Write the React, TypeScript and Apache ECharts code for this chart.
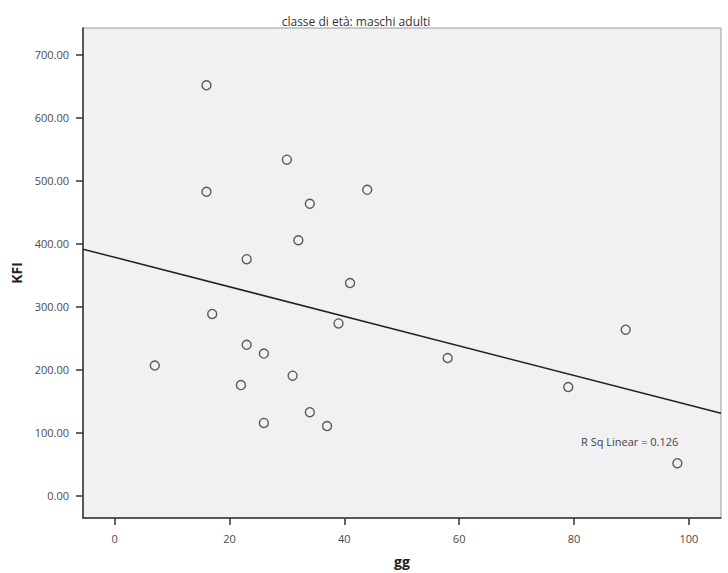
import React, { useEffect, useRef } from "react";
import * as echarts from "echarts";

const titleText = "classe di età: maschi adulti";
const xName = "gg";
const yName = "KFI";
const rSqLabel = "R Sq Linear = 0.126";

const ggValues = [16, 30, 16, 34, 44, 32, 23, 41, 17, 39, 7, 23, 26, 22, 31, 26, 34, 37, 58, 89, 79, 98];
const kfiValues = [651, 533, 482, 463, 485, 405, 375, 337, 288, 273, 206, 239, 225, 175, 190, 115, 132, 110, 218, 263, 172, 51];

const xTicks = [0, 20, 40, 60, 80, 100];
const yTicks = [0, 100, 200, 300, 400, 500, 600, 700];
const xMin = -5.5;
const xMax = 105.6;
const yMin = -36;
const yMax = 742;

const FONT = "'Open Sans', 'Noto Sans', sans-serif";

function fitLine(xs: number[], ys: number[]) {
  const n = xs.length;
  const mx = xs.reduce((a, b) => a + b, 0) / n;
  const my = ys.reduce((a, b) => a + b, 0) / n;
  let sxy = 0;
  let sxx = 0;
  for (let i = 0; i < n; i++) {
    sxy += (xs[i] - mx) * (ys[i] - my);
    sxx += (xs[i] - mx) * (xs[i] - mx);
  }
  const slope = sxy / sxx;
  return { slope, intercept: my - slope * mx };
}

export default function App() {
  const ref = useRef<HTMLDivElement>(null);
  useEffect(() => {
    if (!ref.current) return;
    const chart = echarts.init(ref.current, null, { renderer: "svg" });
    const { slope, intercept } = fitLine(ggValues, kfiValues);
    const points = ggValues.map((x, i) => [x, kfiValues[i]]);
    const lineData = [
      [xMin, intercept + slope * xMin],
      [xMax, intercept + slope * xMax],
    ];
    chart.setOption({
      animation: false,
      backgroundColor: "#ffffff",
      textStyle: { fontFamily: FONT },
      title: {
        text: titleText,
        left: 351,
        top: 10,
        textAlign: "center",
        textStyle: { fontSize: 12, fontWeight: "normal", color: "#333", fontFamily: FONT },
      },
      grid: {
        left: 83,
        top: 28,
        right: 7,
        bottom: 54,
        show: true,
        backgroundColor: "#F1F1F4",
        borderColor: "#9a9a9a",
        borderWidth: 1,
      },
      xAxis: {
        type: "value",
        min: xMin,
        max: xMax,
        name: xName,
        nameLocation: "middle",
        nameGap: 36,
        nameMoveOverlap: false,
        nameTextStyle: { fontSize: 14, fontWeight: "bold", color: "#222", fontFamily: FONT },
        splitLine: { show: false },
        axisLine: { show: true, onZero: false, lineStyle: { color: "#333", width: 1.5 } },
        axisTick: { show: true, length: 7, customValues: xTicks, lineStyle: { color: "#333", width: 1.5 } },
        axisLabel: { customValues: xTicks, margin: 15, fontSize: 11, color: "#4a4a4a", fontFamily: FONT },
      },
      yAxis: {
        type: "value",
        min: yMin,
        max: yMax,
        name: yName,
        nameLocation: "middle",
        nameGap: 60,
        nameMoveOverlap: false,
        nameTextStyle: { fontSize: 14, fontWeight: "bold", color: "#222", fontFamily: FONT },
        splitLine: { show: false },
        axisLine: { show: true, onZero: false, lineStyle: { color: "#333", width: 1.5 } },
        axisTick: { show: true, length: 7, customValues: yTicks, lineStyle: { color: "#333", width: 1.5 } },
        axisLabel: {
          customValues: yTicks,
          margin: 14,
          fontSize: 11,
          color: "#4a4a4a",
          fontFamily: FONT,
          formatter: (v: number) => v.toFixed(2),
        },
      },
      series: [
        {
          type: "line",
          data: lineData,
          symbol: "none",
          silent: true,
          lineStyle: { color: "#222", width: 1.5 },
          z: 2,
        },
        {
          type: "scatter",
          data: points,
          symbol: "circle",
          symbolSize: 9,
          itemStyle: { color: "#F1F1F4", borderColor: "#333", borderWidth: 1.4 },
          z: 3,
        },
      ],
      graphic: [
        {
          type: "text",
          left: 581,
          top: 436,
          style: { text: rSqLabel, fontSize: 11, fill: "#444", fontFamily: FONT },
        },
      ],
    });
    return () => chart.dispose();
  }, []);
  return (
    <div
      ref={ref}
      style={{ position: "fixed", left: 0, top: 0, width: 728, height: 573 }}
    />
  );
}
